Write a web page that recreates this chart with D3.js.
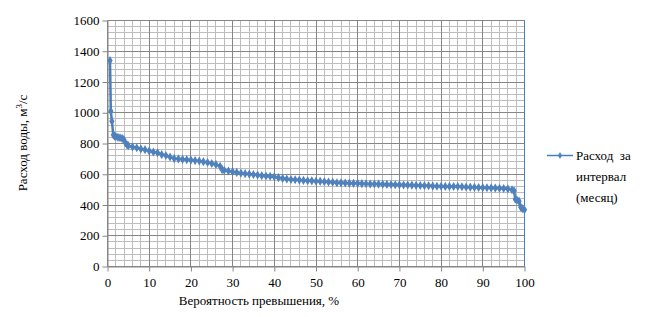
<!DOCTYPE html>
<html>
<head>
<meta charset="utf-8">
<script src="https://cdn.jsdelivr.net/npm/d3@7"></script>
</head>
<body style="margin:0">
<script>
// probability of exceedance, %
const probability = [
  0.6, 0.8, 1.05, 1.4, 1.7, 2.0, 2.5, 3.0, 3.5, 3.9, 4.3, 4.7, 5, 6, 7, 8, 9, 10,
  11, 12, 13, 14, 15, 16, 17, 18, 19, 20, 21, 22, 23, 24, 25, 26, 27, 27.5, 28,
  29, 30, 31, 32, 33, 34, 35, 36, 37, 38, 39, 40, 41, 42, 43, 44, 45, 46, 47, 48,
  49, 50, 51, 52, 53, 54, 55, 56, 57, 58, 59, 60, 61, 62, 63, 64, 65, 66, 67, 68,
  69, 70, 71, 72, 73, 74, 75, 76, 77, 78, 79, 80, 81, 82, 83, 84, 85, 86, 87, 88,
  89, 90, 91, 92, 93, 94, 95, 96, 97, 97.5, 97.8, 98.2, 98.7, 99.1, 99.5, 100
];
// discharge for the interval (month), m3/s
const discharge = [
  1340, 1010, 945, 855, 848, 845, 840, 837, 833, 826, 805, 790, 786, 778, 772, 765, 760, 752,
  745, 740, 728, 722, 712, 702, 700, 697, 695, 692, 689, 686, 682, 676, 670, 664, 652, 630, 626,
  621, 617, 612, 607, 604, 601, 598, 595, 591, 589, 587, 584, 578, 573, 569, 566, 564, 562, 560, 558,
  557, 555, 554, 552, 550, 548, 545, 544, 543, 542, 541, 541, 539, 538, 537, 537, 536, 535, 534, 533,
  532, 531, 530, 530, 529, 528, 527, 526, 525, 523, 522, 522, 521, 521, 520, 520, 519, 517, 516, 515,
  514, 513, 512, 511, 510, 509, 507, 505, 499, 492, 438, 432, 425, 386, 376, 369
];
const xTicks = d3.range(0, 101, 10);
const yTicks = d3.range(0, 1601, 200);
const xMinor = d3.range(0, 101, 2);
const yMinor = d3.range(0, 1601, 40);

const FONT = "'Liberation Serif'";

const data = probability.map((p, i) => ({ p, v: discharge[i] }));

const width = 647, height = 317;
const svg = d3.select("body").append("svg")
  .attr("width", width)
  .attr("height", height);

const x = d3.scaleLinear().domain([0, 100]).range([107.5, 524.5]);
const y = d3.scaleLinear().domain([0, 1600]).range([266.5, 20.5]);

const crisp = v => Math.round(v - 0.5) + 0.5;

// minor grid
const grid = svg.append("g");
grid.selectAll(".mx").data(xMinor).enter().append("line")
  .attr("x1", d => crisp(x(d))).attr("x2", d => crisp(x(d)))
  .attr("y1", y(0)).attr("y2", y(1600))
  .attr("stroke", "#bdbdbd").attr("stroke-width", 1);
grid.selectAll(".my").data(yMinor).enter().append("line")
  .attr("y1", d => crisp(y(d))).attr("y2", d => crisp(y(d)))
  .attr("x1", x(0)).attr("x2", x(100))
  .attr("stroke", "#bdbdbd").attr("stroke-width", 1);
// major grid
grid.selectAll(".Mx").data(xTicks).enter().append("line")
  .attr("x1", d => crisp(x(d))).attr("x2", d => crisp(x(d)))
  .attr("y1", y(0)).attr("y2", y(1600))
  .attr("stroke", "#868686").attr("stroke-width", 1);
grid.selectAll(".My").data(yTicks).enter().append("line")
  .attr("y1", d => crisp(y(d))).attr("y2", d => crisp(y(d)))
  .attr("x1", x(0)).attr("x2", x(100))
  .attr("stroke", "#868686").attr("stroke-width", 1);

// right border of plot area
svg.append("line")
  .attr("x1", crisp(x(100))).attr("x2", crisp(x(100)))
  .attr("y1", y(0)).attr("y2", y(1600))
  .attr("stroke", "#4a7ebb").attr("stroke-width", 1);

// axes
const xAxis = svg.append("g")
  .attr("transform", `translate(0,${crisp(y(0))})`)
  .call(d3.axisBottom(x).tickValues(xTicks).tickFormat(d3.format("d"))
    .tickSize(5).tickPadding(6).tickSizeOuter(0));
const yAxis = svg.append("g")
  .attr("transform", `translate(${crisp(x(0))},0)`)
  .call(d3.axisLeft(y).tickValues(yTicks).tickFormat(d3.format("d"))
    .tickSize(5).tickPadding(3).tickSizeOuter(0));
[xAxis, yAxis].forEach(a => {
  a.attr("font-family", FONT).attr("font-size", 13);
  a.select(".domain").attr("stroke", "#868686");
  a.selectAll(".tick line").attr("stroke", "#868686");
  a.selectAll("text")
    .attr("fill", "#000")
    .style("font-family", FONT);
});

// series
const line = d3.line().x(d => x(d.p)).y(d => y(d.v));
svg.append("path")
  .datum(data)
  .attr("fill", "none")
  .attr("stroke", "#4a7ebb")
  .attr("stroke-width", 2.5)
  .attr("stroke-linejoin", "round")
  .attr("d", line);

const diamond = d3.symbol().type(d3.symbolDiamond).size(24);
svg.append("g").selectAll("path")
  .data(data)
  .enter().append("path")
  .attr("transform", d => `translate(${x(d.p)},${y(d.v)})`)
  .attr("d", diamond)
  .attr("fill", "#4f81bd");

// axis titles
svg.append("text")
  .attr("x", 259).attr("y", 305)
  .attr("text-anchor", "middle")
  .attr("font-family", FONT)
  .style("font-family", FONT)
  .attr("font-size", 13)
  .text("Вероятность превышения, %");

const yTitle = svg.append("text")
  .attr("transform", "translate(27,143) rotate(-90)")
  .attr("text-anchor", "middle")
  .attr("font-family", FONT)
  .style("font-family", FONT)
  .attr("font-size", 13);
yTitle.append("tspan").text("Расход воды, м");
yTitle.append("tspan").attr("dy", -5).attr("font-size", 9).text("3");
yTitle.append("tspan").attr("dy", 5).text("/с");

// legend
const legend = svg.append("g");
legend.append("line")
  .attr("x1", 547).attr("x2", 573).attr("y1", 155.5).attr("y2", 155.5)
  .attr("stroke", "#4a7ebb").attr("stroke-width", 1.5);
legend.append("path")
  .attr("transform", "translate(560,155.5)")
  .attr("d", d3.symbol().type(d3.symbolDiamond).size(14))
  .attr("fill", "#4f81bd");
const legendText = legend.append("text")
  .attr("x", 576).attr("y", 160)
  .attr("font-family", FONT)
  .style("font-family", FONT)
  .attr("font-size", 13);
["Расход  за", "интервал", "(месяц)"].forEach((t, i) => {
  legendText.append("tspan").attr("x", 576).attr("dy", i === 0 ? 0 : 21)
    .attr("xml:space", "preserve").text(t);
});
</script>
</body>
</html>
